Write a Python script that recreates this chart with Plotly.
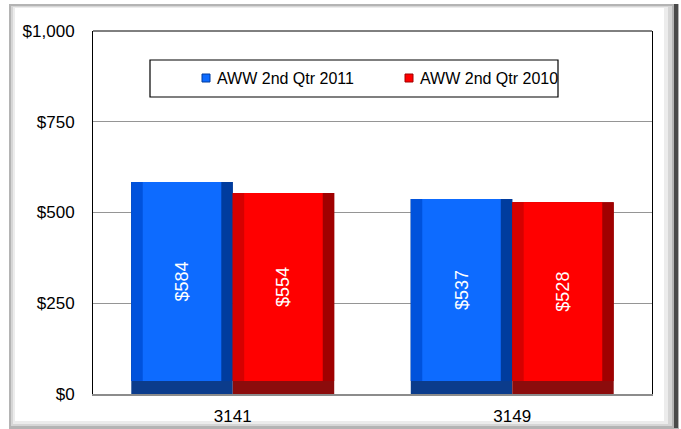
import plotly.graph_objects as go

categories = ["3141", "3149"]
series_names = ["AWW 2nd Qtr 2011", "AWW 2nd Qtr 2010"]
aww_2011 = [584, 537]
aww_2010 = [554, 528]
y_ticks = [0, 250, 500, 750, 1000]
y_tick_labels = ["$0", "$250", "$500", "$750", "$1,000"]

W, H = 681, 429
L, R, T, B = 93, 29, 31, 35
pw, ph = W - L - R, H - T - B

def px_x(x):
    return (x - L) / pw

def px_y(y):
    return (H - B - y) / ph

FONT = "Arial, 'Liberation Sans', sans-serif"

styles = [
    dict(face="#0D6BFF", left="#0052DC", right="#003C9E", bottom="#0B3C8C"),
    dict(face="#FF0000", left="#D60000", right="#A00000", bottom="#8C0C0C"),
]

bar_w = 0.363
inset_x = 0.041
bev_base = 36

xs = [0, 1]
fig = go.Figure()
for i, (name, vals) in enumerate(zip(series_names, [aww_2011, aww_2010])):
    st = styles[i]
    off = -bar_w if i == 0 else 0.0
    fig.add_trace(go.Bar(x=xs, y=vals, width=bar_w, offset=off, marker=dict(color=st["bottom"], line=dict(width=0)),
                         showlegend=False, hoverinfo="skip"))
    fig.add_trace(go.Bar(x=xs, y=[v - bev_base for v in vals], base=bev_base, width=bar_w, offset=off,
                         marker=dict(color=st["right"], line=dict(width=0)), showlegend=False, hoverinfo="skip"))
    fig.add_trace(go.Bar(x=xs, y=[v - bev_base for v in vals], base=bev_base, width=bar_w / 2, offset=off,
                         marker=dict(color=st["left"], line=dict(width=0)), showlegend=False, hoverinfo="skip"))
    fig.add_trace(go.Bar(x=xs, y=[v - bev_base for v in vals], base=bev_base, width=bar_w - 2 * inset_x,
                         offset=off + inset_x, name=name, showlegend=False,
                         marker=dict(color=st["face"], line=dict(width=0)),
                         text=[f"${v}" for v in vals], textposition="inside", insidetextanchor="middle",
                         textangle=-90, textfont=dict(color="white", size=18, family=FONT),
                         constraintext="none"))

shapes = []
shapes.append(dict(type="rect", xref="paper", yref="paper", x0=px_x(9), x1=px_x(679), y0=px_y(429), y1=px_y(4),
                   fillcolor="#B4B4B4", line=dict(width=0), layer="below"))
shapes.append(dict(type="rect", xref="paper", yref="paper", x0=px_x(11), x1=px_x(672), y0=px_y(426), y1=px_y(6),
                   fillcolor="#D6D6D6", line=dict(width=0), layer="below"))
shapes.append(dict(type="rect", xref="paper", yref="paper", x0=px_x(13), x1=px_x(668), y0=px_y(424), y1=px_y(7),
                   fillcolor="#ECECEC", line=dict(width=0), layer="below"))
shapes.append(dict(type="rect", xref="paper", yref="paper", x0=px_x(15), x1=px_x(664), y0=px_y(421), y1=px_y(8),
                   fillcolor="#FFFFFF", line=dict(width=0), layer="below"))
shapes.append(dict(type="rect", xref="paper", yref="paper", x0=px_x(674), x1=px_x(678), y0=px_y(428), y1=px_y(4),
                   fillcolor="#4A4A4A", line=dict(width=0), layer="below"))
shapes.append(dict(type="line", xref="paper", yref="paper", x0=0, x1=1, y0=1, y1=1,
                   line=dict(color="#000000", width=1)))
# legend box
shapes.append(dict(type="rect", xref="paper", yref="paper", x0=px_x(150), x1=px_x(558), y0=px_y(97), y1=px_y(60),
                   fillcolor="white", line=dict(color="#000000", width=1.2)))

annotations = []
legend_pos = [(202, 215), (405, 418)]
for i, name in enumerate(series_names):
    mx, tx = legend_pos[i]
    shapes.append(dict(type="rect", xref="paper", yref="paper", x0=px_x(mx), x1=px_x(mx + 8),
                       y0=px_y(82), y1=px_y(74), fillcolor=styles[i]["face"],
                       line=dict(color=styles[i]["right"], width=1)))
    annotations.append(dict(xref="paper", yref="paper", x=px_x(tx), y=px_y(78), xanchor="left", yanchor="middle",
                            text=name, showarrow=False, font=dict(size=16, family=FONT, color="#000000")))

fig.update_layout(
    width=W, height=H,
    margin=dict(l=L, r=R, t=T, b=B, pad=0, autoexpand=False),
    paper_bgcolor="white", plot_bgcolor="rgba(0,0,0,0)",
    barmode="overlay",
    font=dict(family=FONT, size=16, color="#000000"),
    shapes=shapes,
    annotations=annotations,
    showlegend=False,
    xaxis=dict(range=[-0.5, 1.5], tickmode="array", tickvals=xs, ticktext=categories, automargin=False,
               showgrid=False, zeroline=False, showline=True, linecolor="#8C8C8C", linewidth=2,
               ticks="outside", ticklen=6, tickcolor="rgba(0,0,0,0)", tickfont=dict(size=17)),
    yaxis=dict(range=[0, 1000], tickmode="array", tickvals=y_ticks, ticktext=y_tick_labels, automargin=False,
               showgrid=True, gridcolor="#959595", gridwidth=1, zeroline=False,
               showline=True, linecolor="#000000", linewidth=1, mirror=True,
               ticks="outside", ticklen=14, tickcolor="rgba(0,0,0,0)", tickfont=dict(size=17)),
)

fig.write_html("out.html", config={"displayModeBar": False, "responsive": False},
               post_script="document.body.style.margin='0';document.body.style.padding='0';")
